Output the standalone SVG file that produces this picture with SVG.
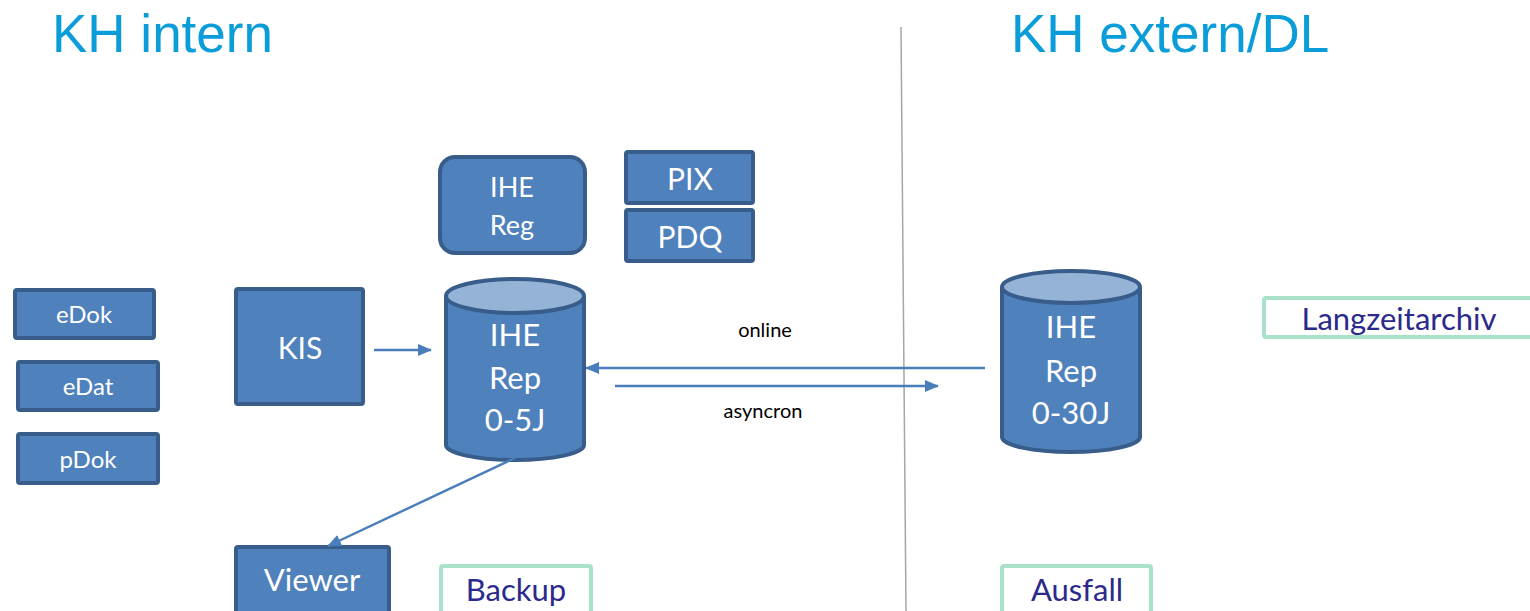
<svg xmlns="http://www.w3.org/2000/svg" width="1530" height="611" viewBox="0 0 1530 611">
<defs>
<marker id="ah" markerWidth="14" markerHeight="12" refX="13" refY="6" orient="auto" markerUnits="userSpaceOnUse" viewBox="0 0 14 12">
<path d="M0,0 L14,6 L0,12 z" fill="#4a7ebb"/>
</marker>
<style>
.title{font-family:"Liberation Sans",Arial,sans-serif;font-size:53px;fill:#0a9dd9}
.box{fill:#4f81bd;stroke:#385d8a;stroke-width:4}
.top{fill:#95b3d7;stroke:#385d8a;stroke-width:4}
.wt{font-family:Lato,"Open Sans",sans-serif;fill:#ffffff;text-anchor:middle}
.gbox{fill:#ffffff;stroke:#a9e2c9;stroke-width:4}
.gt{font-family:Lato,"Open Sans",sans-serif;fill:#2b2a8c;font-size:31px;text-anchor:middle}
.lbl{font-family:Lato,"Open Sans",sans-serif;fill:#000000;font-size:20px;text-anchor:middle}
.con{stroke:#4a7ebb;stroke-width:2.4;fill:none}
</style>
</defs>
<rect width="1530" height="611" fill="#ffffff"/>
<text class="title" x="52" y="52">KH intern</text>
<text class="title" x="1011" y="52">KH extern/DL</text>
<line x1="901" y1="27" x2="906" y2="611" stroke="#a6a6a6" stroke-width="1.5"/>

<g id="ihe-reg"><rect class="box" x="440" y="157" width="145" height="96" rx="15"/><text class="wt" font-size="27" x="512" y="197">IHE</text><text class="wt" font-size="27" x="512" y="235">Reg</text></g>
<g id="pix"><rect class="box" x="626" y="152" width="127" height="51" rx="2"/><text class="wt" font-size="30" x="690" y="190">PIX</text></g>
<g id="pdq"><rect class="box" x="626" y="210" width="127" height="51" rx="2"/><text class="wt" font-size="30" x="690" y="248">PDQ</text></g>
<g id="edok"><rect class="box" x="15" y="290" width="139" height="48" rx="2"/><text class="wt" font-size="24" x="84" y="323">eDok</text></g>
<g id="edat"><rect class="box" x="18" y="362" width="140" height="48" rx="2"/><text class="wt" font-size="24" x="88" y="395">eDat</text></g>
<g id="pdok"><rect class="box" x="18" y="434" width="140" height="49" rx="2"/><text class="wt" font-size="24" x="88" y="468">pDok</text></g>
<g id="kis"><rect class="box" x="236" y="289" width="127" height="115" rx="2"/><text class="wt" font-size="30" x="300" y="359">KIS</text></g>

<g id="rep-intern">
<path class="box" d="M446,296 L446,445 A69,15 0 0 0 584,445 L584,296"/>
<ellipse class="top" cx="515" cy="296" rx="69" ry="17"/>
<text class="wt" font-size="31" x="515" y="346">IHE</text>
<text class="wt" font-size="31" x="515" y="389">Rep</text>
<text class="wt" font-size="31" x="515" y="431">0-5J</text>
</g>
<g id="rep-extern">
<path class="box" d="M1002,287 L1002,437 A69,15 0 0 0 1140,437 L1140,287"/>
<ellipse class="top" cx="1071" cy="287" rx="69" ry="16"/>
<text class="wt" font-size="31" x="1071" y="338">IHE</text>
<text class="wt" font-size="31" x="1071" y="382">Rep</text>
<text class="wt" font-size="31" x="1071" y="424">0-30J</text>
</g>

<g id="viewer"><rect class="box" x="236" y="547" width="153" height="70" rx="2"/><text class="wt" font-size="31" x="312" y="591">Viewer</text></g>
<g id="backup"><rect class="gbox" x="441" y="566" width="150" height="50" rx="2"/><text class="gt" x="516" y="601">Backup</text></g>
<g id="ausfall"><rect class="gbox" x="1002" y="566" width="149" height="50" rx="2"/><text class="gt" x="1077" y="601">Ausfall</text></g>
<g id="langzeitarchiv"><rect class="gbox" x="1264" y="298" width="280" height="39" rx="2"/><text class="gt" x="1399" y="330">Langzeitarchiv</text></g>

<g id="connectors">
<line class="con" x1="374" y1="350" x2="431" y2="350" marker-end="url(#ah)"/>
<line class="con" x1="985" y1="368" x2="586" y2="368" marker-end="url(#ah)"/>
<line class="con" x1="615" y1="386" x2="938" y2="386" marker-end="url(#ah)"/>
<line class="con" x1="515" y1="458" x2="328" y2="546" marker-end="url(#ah)"/>
<text class="lbl" x="765" y="337">online</text>
<text class="lbl" x="763" y="418">asyncron</text>
</g>
</svg>
